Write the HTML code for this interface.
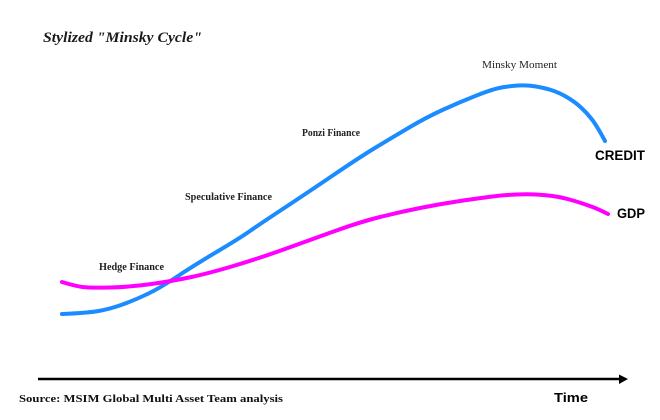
<!DOCTYPE html>
<html>
<head>
<meta charset="utf-8">
<style>
html,body{margin:0;padding:0;background:#fff;}
svg{display:block;}
</style>
</head>
<body>
<svg width="660" height="420" viewBox="0 0 660 420" xmlns="http://www.w3.org/2000/svg">
<rect width="660" height="420" fill="#fff"/>
<text x="43" y="42" font-family="Liberation Serif, serif" font-size="15" font-weight="bold" font-style="italic" fill="#1a1a1a" textLength="159" lengthAdjust="spacingAndGlyphs">Stylized "Minsky Cycle"</text>

<path fill="none" stroke="#1a8cff" stroke-width="4" stroke-linejoin="round" stroke-linecap="round"
d="M62,314 Q87,313 98.5,311 Q110,309 122.5,304.5 Q135,300 147.5,294 Q160,288 176.5,277 Q193,266 216.5,252 Q240,238 250,231 Q260,224 283.5,208.5 Q307,193 333.5,175 Q360,157 376.5,147 Q393,137 410,127 Q427,117 443.5,109.5 Q460,102 476.5,95.5 Q493,89 501.5,87.5 Q510,86 518.5,85.5 Q527,85 536,86.5 Q545,88 552.5,90.5 Q560,93 567.5,97.5 Q575,102 581,107.5 Q587,113 592,119.5 Q597,126 605,141"/>

<path fill="none" stroke="#ff00ff" stroke-width="4" stroke-linejoin="round" stroke-linecap="round"
d="M62,282 Q75,286 82.5,287 Q90,288 110,287.5 Q130,287 151.5,284 Q173,281 191.5,277 Q210,273 235,265.5 Q260,258 285,249 Q310,240 335,231 Q360,222 380,217 Q400,212 420,208 Q440,204 460,201 Q480,198 492.5,196.5 Q505,195 516,194.5 Q527,194 536,194.5 Q545,195 552.5,196 Q560,197 567.5,199 Q575,201 581,203 Q587,205 592.5,207 Q598,209 608,214"/>

<g font-family="Liberation Serif, serif" fill="#222">
<text x="482" y="68" font-size="10.5" textLength="75" lengthAdjust="spacingAndGlyphs">Minsky Moment</text>
<text x="302" y="136" font-size="10" font-weight="bold" textLength="58" lengthAdjust="spacingAndGlyphs">Ponzi Finance</text>
<text x="185" y="200" font-size="10" font-weight="bold" textLength="87" lengthAdjust="spacingAndGlyphs">Speculative Finance</text>
<text x="99" y="270" font-size="10" font-weight="bold" textLength="65" lengthAdjust="spacingAndGlyphs">Hedge Finance</text>
</g>

<g font-family="Liberation Sans, sans-serif" font-weight="bold" fill="#000">
<text x="595" y="160" font-size="13.5" textLength="50" lengthAdjust="spacingAndGlyphs">CREDIT</text>
<text x="617" y="218" font-size="13.5" textLength="28" lengthAdjust="spacingAndGlyphs">GDP</text>
<text x="554" y="402" font-size="12.5" textLength="34" lengthAdjust="spacingAndGlyphs">Time</text>
</g>

<line x1="38" y1="379" x2="620" y2="379" stroke="#000" stroke-width="2.5"/>
<polygon points="619,374.5 628,379 619,384" fill="#000"/>

<text x="19" y="402" font-family="Liberation Serif, serif" font-size="10.5" font-weight="bold" fill="#111" textLength="264" lengthAdjust="spacingAndGlyphs">Source: MSIM Global Multi Asset Team analysis</text>
</svg>
</body>
</html>
